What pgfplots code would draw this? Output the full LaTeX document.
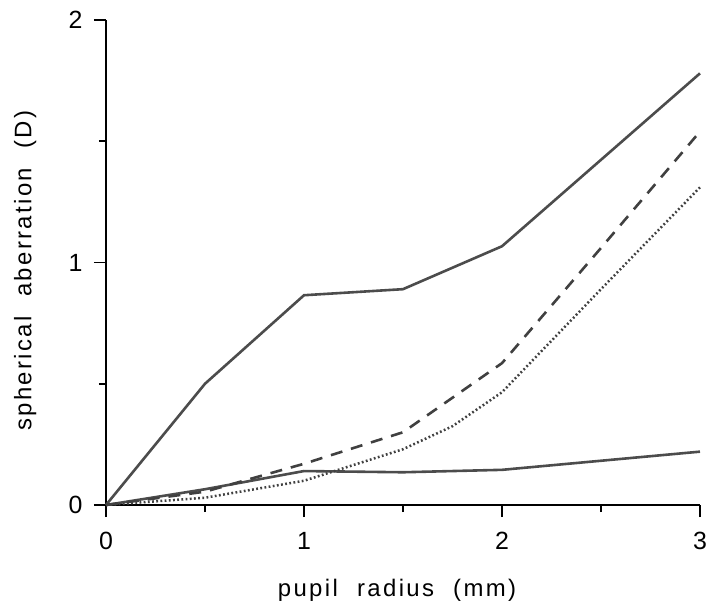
\documentclass[border=0pt]{standalone}
\usepackage{fontspec}
\setmainfont{Liberation Sans}
\usepackage{pgfplots}
\pgfplotsset{compat=1.18}
\newfontfamily\lblfont[LetterSpace=10]{Liberation Sans}
\begin{document}
\begin{tikzpicture}
\begin{axis}[
  scale only axis,
  width=594bp, height=485bp,
  xmin=0, xmax=3, ymin=0, ymax=2,
  axis lines=left,
  axis line style={-, line width=2.2bp, black},
  xtick={0,1,2,3}, ytick={0,1,2},
  minor xtick={0.5,1.5,2.5}, minor ytick={0.5,1.5},
  tick align=outside,
  major tick length=12bp, minor tick length=7bp,
  every tick/.style={black, line width=1.5bp},
  /pgf/number format/assume math mode=true,
  ticklabel style={font=\fontsize{25}{25}\selectfont},
  xticklabel style={yshift=-12bp},
  yticklabel style={xshift=-8bp},
  xlabel={pupil\hspace{0.8em}radius\hspace{0.8em}(mm)},
  ylabel={spherical\hspace{0.8em}aberration\hspace{0.8em}(D)},
  every axis x label/.style={at={(axis description cs:0.49,-0.175)}, anchor=center, font=\lblfont\fontsize{24}{24}\selectfont},
  every axis y label/.style={at={(axis description cs:-0.136,0.483)}, anchor=center, rotate=90, font=\lblfont\fontsize{24}{24}\selectfont},
  clip=false,
]
\addplot[black!70, line width=2.6bp] coordinates {(0,0) (0.5,0.5) (1,0.865) (1.5,0.89) (2,1.067) (3,1.78)};
\addplot[black!70, line width=2.6bp] coordinates {(0,0) (0.5,0.065) (1,0.14) (1.5,0.135) (2,0.145) (3,0.22)};
\addplot[black!75, line width=2.6bp, dash pattern=on 12bp off 9bp] coordinates {(0,0) (0.5,0.055) (1,0.17) (1.5,0.30) (2,0.585) (2.5,1.06) (3,1.54)};
\addplot[black!75, line width=2.5bp, dash pattern=on 1.8bp off 2.4bp] coordinates {(0,0) (0.5,0.03) (1,0.10) (1.5,0.23) (1.75,0.325) (2,0.465) (2.5,0.89) (3,1.31)};
\coordinate (sw) at (rel axis cs:0,0);
\coordinate (ne) at (rel axis cs:1,1);
\end{axis}
\pgfresetboundingbox
\path[use as bounding box] ([shift={(-106bp,-111bp)}]sw) rectangle ([shift={(7bp,20bp)}]ne);
\end{tikzpicture}
\end{document}
